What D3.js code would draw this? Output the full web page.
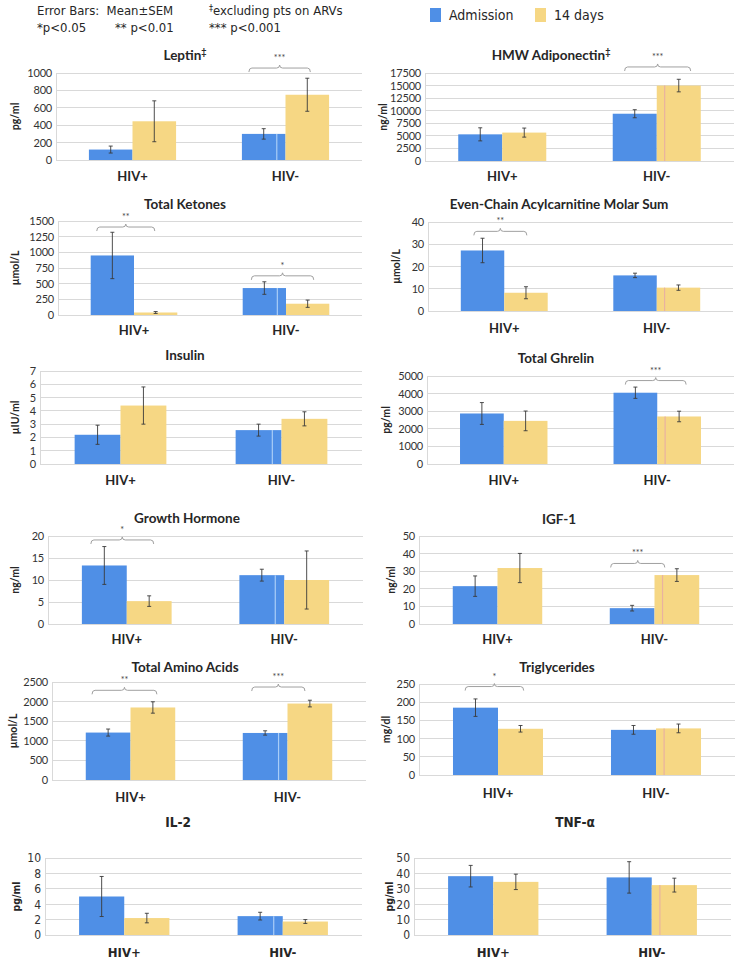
<!DOCTYPE html>
<html><head><meta charset="utf-8">
<script src="https://cdn.jsdelivr.net/npm/d3@7"></script>
<style>
html,body{margin:0;padding:0;background:#fff;}
svg{display:block;}
</style></head>
<body>
<svg id="chart" width="742" height="964"></svg>
<script>
// ---------------- DATA ----------------
const groups = ["HIV+", "HIV-"];
const seriesNames = ["Admission", "14 days"];
const panelTitles = ["Leptin", "HMW Adiponectin", "Total Ketones", "Even-Chain Acylcarnitine Molar Sum",
  "Insulin", "Total Ghrelin", "Growth Hormone", "IGF-1", "Total Amino Acids", "Triglycerides", "IL-2", "TNF-\u03b1"];
const titleMarks = ["\u2021", "\u2021", "", "", "", "", "", "", "", "", "", ""];
const unitLabels = ["pg/ml", "ng/ml", "\u00b5mol/L", "\u00b5mol/L", "\u00b5IU/ml", "pg/ml", "ng/ml", "ng/ml", "\u00b5mol/L", "mg/dl", "pg/ml", "pg/ml"];
const yMax  = [1000, 17500, 1500, 40, 7, 5000, 20, 50, 2500, 250, 10, 50];
const yStep = [200, 2500, 250, 10, 1, 1000, 5, 10, 500, 50, 2, 10];
// [HIV+, HIV-] per panel
const admissionMean = [[120, 300], [5300, 9400], [950, 430], [27.2, 16], [2.2, 2.55], [2870, 4050], [13.3, 11.1], [21.5, 9], [1210, 1200], [185, 124], [5.0, 2.45], [38.2, 37.4]];
const admissionSEM  = [[40, 60], [1300, 800], [370, 100], [5.5, 1], [0.72, 0.45], [620, 320], [4.3, 1.35], [5.8, 1.6], [90, 55], [24, 12], [2.6, 0.5], [7, 10.2]];
const day14Mean     = [[445, 750], [5650, 15000], [40, 180], [8.2, 10.5], [4.4, 3.4], [2450, 2700], [5.2, 10], [31.8, 27.8], [1850, 1950], [127, 128], [2.2, 1.75], [34.5, 32.4]];
const day14SEM      = [[235, 190], [900, 1250], [15, 58], [2.7, 1.2], [1.4, 0.53], [560, 300], [1.2, 6.6], [8.3, 3.6], [145, 85], [9, 12], [0.62, 0.25], [5, 4.5]];
// significance brackets: panel, group, level (data units), stars
const sigPanel = [0, 1, 2, 2, 3, 5, 6, 7, 8, 8, 9];
const sigGroup = ["HIV-", "HIV-", "HIV+", "HIV-", "HIV+", "HIV-", "HIV+", "HIV-", "HIV+", "HIV-", "HIV+"];
const sigLevel = [1057, 18700, 1404, 625, 35.8, 4740, 19.1, 34.4, 2288, 2372, 243];
const sigStars = ["***", "***", "**", "*", "**", "***", "*", "***", "**", "***", "*"];
const headerLines = [["Error Bars:\u00a0\u00a0Mean\u00b1SEM", "excluding pts on ARVs"], ["*p<0.05", "** p<0.01", "*** p<0.001"]];

// ---------------- LAYOUT ----------------
const layout = [
  {l:56, r:362, t:73, b:160, tx:185, ty:55, ly:176, ux:15},
  {l:425, r:734, t:73, b:161, tx:551, ty:55, ly:176, ux:383},
  {l:58, r:362, t:221, b:315, tx:185, ty:204, ly:330, ux:15},
  {l:428, r:733, t:222, b:311, tx:559, ty:204, ly:328, ux:396},
  {l:40, r:362, t:371, b:464, tx:185, ty:355, ly:480, ux:15},
  {l:427, r:734, t:376, b:464, tx:556, ty:358, ly:480, ux:386},
  {l:48, r:363, t:536, b:624, tx:187, ty:518, ly:639, ux:15},
  {l:419, r:733, t:536, b:624, tx:559, ty:519, ly:639, ux:391},
  {l:52, r:366, t:682, b:780, tx:185, ty:667, ly:797, ux:13},
  {l:419, r:735, t:684, b:775, tx:557, ty:667, ly:793, ux:386},
  {l:45, r:362, t:858, b:935, tx:178, ty:822, ly:952, ux:16},
  {l:414, r:731, t:858, b:935, tx:575, ty:822, ly:952, ux:389}
];
const sigSpan = [[-0.84,0.57],[-0.73,0.77],[-0.86,0.48],[-0.8,0.64],[-0.7,0.52],[-0.73,0.66],[-0.8,0.6],[-0.98,0.23],[-0.86,0.59],[-0.8,0.39],[-0.73,0.57]];

const BLUE = "#4f8fe6", YELLOW = "#f6d784", GRID = "#d9d9d9", TXT = "#262626";
const MAIN_FONT = "Lato, 'Open Sans', sans-serif";
const NARROW_FONT = "'DejaVu Sans Condensed', 'Liberation Sans Narrow', 'Roboto Condensed', sans-serif";

const svg = d3.select("#chart");

// header
const hdr = svg.append("g").attr("font-family", NARROW_FONT).attr("font-size", 13).attr("fill", TXT);
hdr.append("text").attr("x", 37).attr("y", 15).text(headerLines[0][0]);
const ex = hdr.append("text").attr("x", 209).attr("y", 15);
ex.append("tspan").attr("font-size", 9).attr("dy", -4).text("\u2021");
ex.append("tspan").attr("dy", 4).text(headerLines[0][1]);
hdr.append("text").attr("x", 37).attr("y", 32).text(headerLines[1][0]);
hdr.append("text").attr("x", 115).attr("y", 32).text(headerLines[1][1]);
hdr.append("text").attr("x", 209).attr("y", 32).text(headerLines[1][2]);

// legend
const legX = d3.scalePoint().domain(seriesNames).range([430, 535]);
const colorScale = d3.scaleOrdinal().domain(seriesNames).range([BLUE, YELLOW]);
const leg = svg.append("g").attr("font-family", NARROW_FONT).attr("font-size", 14).attr("fill", TXT);
seriesNames.forEach(s => {
  leg.append("rect").attr("x", legX(s)).attr("y", 8).attr("width", 11).attr("height", 14).attr("fill", colorScale(s));
  leg.append("text").attr("x", legX(s) + 19).attr("y", 20).text(s);
});

function drawPanel(i) {
  const L = layout[i];
  const narrow = i >= 10;
  const font = narrow ? NARROW_FONT : MAIN_FONT;
  const g = svg.append("g").attr("font-family", font);
  const y = d3.scaleLinear().domain([0, yMax[i]]).range([L.b, L.t]);
  const x = d3.scaleBand().domain(groups).range([L.l, L.r]);
  const inner = d3.scaleBand().domain(seriesNames).range([0, x.bandwidth()]).paddingInner(0).paddingOuter(0.755);
  const ticks = d3.range(0, yMax[i] + yStep[i] / 2, yStep[i]);

  // gridlines
  g.append("g").selectAll("line").data(ticks).join("line")
    .attr("x1", L.l).attr("x2", L.r).attr("y1", d => y(d)).attr("y2", d => y(d))
    .attr("stroke", GRID).attr("stroke-width", 1).attr("shape-rendering", "crispEdges");
  g.append("line").attr("x1", L.l).attr("x2", L.l).attr("y1", L.t).attr("y2", L.b)
    .attr("stroke", GRID).attr("shape-rendering", "crispEdges");

  // y axis labels
  const yAxis = d3.axisLeft(y).tickValues(ticks).tickSize(0).tickPadding(4).tickFormat(d3.format("d"));
  const ya = g.append("g").attr("transform", `translate(${L.l},0)`).call(yAxis);
  ya.select(".domain").remove();
  ya.selectAll("text").attr("font-family", font).attr("font-size", narrow ? 12 : 11)
    .attr("letter-spacing", narrow ? 0 : -0.2).attr("fill", "#333");

  // unit label
  g.append("text").attr("transform", `translate(${L.ux},${(L.t + L.b) / 2}) rotate(-90)`)
    .attr("text-anchor", "middle").attr("dominant-baseline", "central")
    .attr("font-size", 10.5).attr("font-weight", "bold").attr("fill", TXT).text(unitLabels[i]);

  // title
  const tt = g.append("text").attr("x", L.tx).attr("y", L.ty).attr("text-anchor", "middle").attr("dominant-baseline", "central")
    .attr("font-size", 13.5).attr("font-weight", "bold").attr("fill", TXT);
  tt.append("tspan").text(panelTitles[i]);
  if (titleMarks[i]) tt.append("tspan").attr("font-size", 9).attr("dy", -4).text(titleMarks[i]);

  // bars
  const rows = [];
  groups.forEach((gr, gi) => {
    rows.push({group: gr, series: seriesNames[0], mean: admissionMean[i][gi], sem: admissionSEM[i][gi]});
    rows.push({group: gr, series: seriesNames[1], mean: day14Mean[i][gi], sem: day14SEM[i][gi]});
  });
  g.append("g").selectAll("rect").data(rows).join("rect")
    .attr("x", d => x(d.group) + inner(d.series))
    .attr("width", inner.bandwidth())
    .attr("y", d => y(d.mean))
    .attr("height", d => y(0) - y(d.mean))
    .attr("fill", d => colorScale(d.series));

  // faint scan-line streak visible inside the HIV- bar of the source image
  const streakRow = rows.find(d => d.group === "HIV-" && d.series === seriesNames[i % 2 === 0 ? 0 : 1]);
  const sx = x(streakRow.group) + inner(streakRow.series) + inner.bandwidth() * (i % 2 === 0 ? 0.8 : 0.18);
  g.append("line").attr("x1", sx).attr("x2", sx).attr("y1", y(streakRow.mean)).attr("y2", y(0))
    .attr("stroke", i % 2 === 0 ? "#a9cdf7" : "#e9b2a0").attr("stroke-width", 1.2);

  // error bars
  const eb = g.append("g").attr("stroke", "#3a3a3a").attr("stroke-width", 0.9).attr("fill", "none");
  rows.forEach(d => {
    const cx = x(d.group) + inner(d.series) + inner.bandwidth() / 2;
    const y1 = y(d.mean + d.sem), y2 = y(Math.max(0, d.mean - d.sem));
    eb.append("line").attr("x1", cx).attr("x2", cx).attr("y1", y1).attr("y2", y2);
    eb.append("line").attr("x1", cx - 2).attr("x2", cx + 2).attr("y1", y1).attr("y2", y1);
    eb.append("line").attr("x1", cx - 2).attr("x2", cx + 2).attr("y1", y2).attr("y2", y2);
  });

  // x labels
  const xAxis = d3.axisBottom(x).tickSize(0).tickPadding(0);
  const xa = g.append("g").attr("transform", `translate(0,${L.ly})`).call(xAxis);
  xa.select(".domain").remove();
  xa.selectAll("text").attr("font-family", font).attr("font-size", 13).attr("font-weight", "bold")
    .attr("fill", TXT).attr("dy", null).attr("dominant-baseline", "central");

  // significance brackets
  sigPanel.forEach((p, k) => {
    if (p !== i) return;
    const c = x(sigGroup[k]) + x.bandwidth() / 2;
    const bw = inner.bandwidth();
    const x0 = c + sigSpan[k][0] * bw, x1 = c + sigSpan[k][1] * bw;
    const yy = y(sigLevel[k]);
    const m = (x0 + x1) / 2;
    const path = `M${x0},${yy + 4} Q${x0},${yy} ${x0 + 3},${yy} L${m - 3},${yy} Q${m},${yy} ${m},${yy - 3} Q${m},${yy} ${m + 3},${yy} L${x1 - 3},${yy} Q${x1},${yy} ${x1},${yy + 4}`;
    g.append("path").attr("d", path).attr("fill", "none").attr("stroke", "#a0a0a0").attr("stroke-width", 1);
    g.append("text").attr("x", m).attr("y", yy - 7).attr("text-anchor", "middle")
      .attr("font-size", 9).attr("fill", "#444").text(sigStars[k]);
  });
}

for (let i = 0; i < panelTitles.length; i++) drawPanel(i);
</script>
</body></html>
